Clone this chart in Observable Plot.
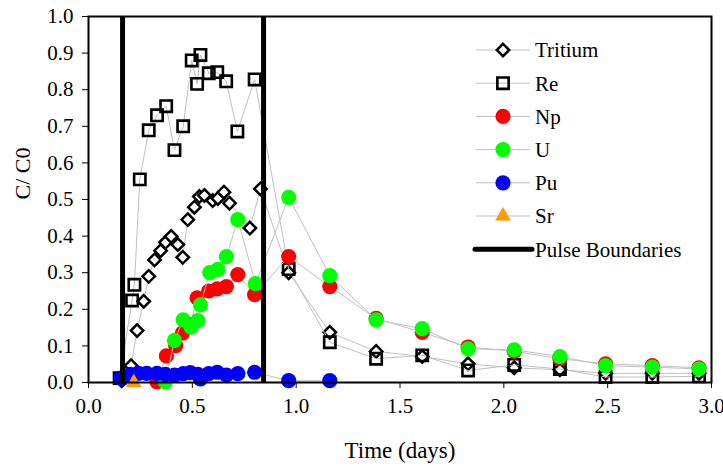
<!DOCTYPE html>
<html>
<head>
<meta charset="utf-8">
<script src="https://cdn.jsdelivr.net/npm/d3@7"></script>
<script src="https://cdn.jsdelivr.net/npm/@observablehq/plot@0.6"></script>
<style>
  body { margin: 0; background: #fff; }
  #chart { position: relative; width: 723px; height: 466px; font-family: "Liberation Serif", "Times New Roman", serif; }
  #chart svg.legend { position: absolute; left: 0; top: 0; pointer-events: none; }
</style>
</head>
<body>
<div id="chart"></div>
<script>
// Breakthrough curves: relative concentration C/C0 versus elapsed time (days)
const tritiumT = [0.16, 0.205, 0.234, 0.266, 0.29, 0.318, 0.347, 0.371, 0.398, 0.43, 0.454, 0.478, 0.51, 0.534, 0.558, 0.598, 0.623, 0.652, 0.679, 0.777, 0.828, 0.964, 1.162, 1.385, 1.607, 1.828, 2.05, 2.27, 2.49, 2.715, 2.94];
const tritiumC = [0.005, 0.046, 0.142, 0.222, 0.29, 0.335, 0.36, 0.383, 0.399, 0.377, 0.342, 0.445, 0.479, 0.508, 0.511, 0.497, 0.503, 0.52, 0.49, 0.422, 0.529, 0.30, 0.137, 0.085, 0.071, 0.051, 0.04, 0.035, 0.025, 0.025, 0.025];

const reT = [0.15, 0.21, 0.221, 0.247, 0.29, 0.33, 0.374, 0.414, 0.456, 0.497, 0.523, 0.539, 0.579, 0.62, 0.663, 0.717, 0.80, 0.964, 1.162, 1.385, 1.607, 1.828, 2.05, 2.27, 2.49, 2.715, 2.94];
const reC = [0.012, 0.224, 0.267, 0.555, 0.689, 0.73, 0.755, 0.635, 0.70, 0.88, 0.816, 0.895, 0.845, 0.848, 0.823, 0.686, 0.828, 0.31, 0.11, 0.065, 0.074, 0.033, 0.048, 0.037, 0.015, 0.015, 0.017];

const npT = [0.33, 0.375, 0.42, 0.452, 0.49, 0.523, 0.579, 0.62, 0.664, 0.719, 0.80, 0.964, 1.162, 1.385, 1.607, 1.828, 2.05, 2.27, 2.49, 2.715, 2.94];
const npC = [0.002, 0.073, 0.101, 0.135, 0.158, 0.231, 0.25, 0.256, 0.262, 0.295, 0.24, 0.344, 0.262, 0.175, 0.137, 0.097, 0.085, 0.065, 0.051, 0.046, 0.04];

const uT = [0.37, 0.414, 0.456, 0.494, 0.526, 0.539, 0.584, 0.623, 0.664, 0.719, 0.804, 0.964, 1.162, 1.385, 1.607, 1.828, 2.05, 2.27, 2.49, 2.715, 2.94];
const uC = [0.002, 0.115, 0.171, 0.151, 0.169, 0.212, 0.30, 0.309, 0.344, 0.445, 0.27, 0.506, 0.292, 0.171, 0.147, 0.092, 0.089, 0.071, 0.046, 0.042, 0.037];

const puT = [0.155, 0.20, 0.24, 0.28, 0.33, 0.37, 0.414, 0.456, 0.49, 0.526, 0.539, 0.579, 0.62, 0.664, 0.719, 0.80, 0.964, 1.162];
const puC = [0.012, 0.022, 0.025, 0.025, 0.025, 0.022, 0.02, 0.024, 0.027, 0.022, 0.01, 0.024, 0.028, 0.02, 0.024, 0.028, 0.005, 0.005];

const srT = [0.218];
const srC = [0.0];

// Start and end of the injected pulse (days)
const pulseBounds = [0.164, 0.843];

const xTicks = [0, 0.5, 1.0, 1.5, 2.0, 2.5, 3.0];
const yTicks = [0, 0.1, 0.2, 0.3, 0.4, 0.5, 0.6, 0.7, 0.8, 0.9, 1.0];
const xLabel = "Time (days)";
const yLabel = "C/ C0";
const pulseLabel = "Pulse Boundaries";

const seriesNames = ["Tritium", "Re", "Np", "U", "Pu", "Sr"];
const seriesTimes = [tritiumT, reT, npT, uT, puT, srT];
const seriesValues = [tritiumC, reC, npC, uC, puC, srC];

// Marker styling per tracer
const markerStyle = {
  Tritium: {symbol: "diamond2", r: 5.6, fill: "white", stroke: "black", strokeWidth: 2.5},
  Re:      {symbol: "square2",  r: 7.2, fill: "none",  stroke: "black", strokeWidth: 2.6},
  Np:      {symbol: "circle",   r: 7.6, fill: "#ff0000", stroke: "none", strokeWidth: 0},
  U:       {symbol: "circle",   r: 7.6, fill: "#00ff00", stroke: "none", strokeWidth: 0},
  Pu:      {symbol: "circle",   r: 7.6, fill: "#0000ff", stroke: "none", strokeWidth: 0},
  Sr:      {symbol: "triangle", r: 5.8, fill: "#ff9900", stroke: "none", strokeWidth: 0}
};
const connectorColor = "#c0c0c0";
const serif = "'Liberation Serif', 'Times New Roman', serif";

const seriesRows = seriesNames.map((name, i) =>
  seriesTimes[i].map((t, j) => ({series: name, t, c: seriesValues[i][j]}))
);

const marks = [];
seriesNames.forEach((name, i) => {
  const s = markerStyle[name];
  marks.push(Plot.line(seriesRows[i], {x: "t", y: "c", stroke: connectorColor, strokeWidth: 1}));
  marks.push(Plot.dot(seriesRows[i], {
    x: "t", y: "c", symbol: s.symbol, r: s.r,
    fill: s.fill, stroke: s.stroke, strokeWidth: s.strokeWidth
  }));
});

const chart = Plot.plot({
  width: 723,
  height: 466,
  marginLeft: 88,
  marginRight: 12,
  marginTop: 16,
  marginBottom: 84,
  style: {fontFamily: serif, fontSize: "21px", color: "black", background: "white"},
  x: {domain: [0, 3], ticks: xTicks, tickFormat: d3.format(".1f"), tickSize: 6, tickPadding: 10, label: null},
  y: {domain: [0, 1], ticks: yTicks, tickFormat: d3.format(".1f"), tickSize: 6, tickPadding: 9, label: null},
  marks: [
    ...marks,
    Plot.ruleX(pulseBounds, {stroke: "black", strokeWidth: 5}),
    Plot.frame({stroke: "black", strokeWidth: 2}),
    Plot.text([xLabel], {text: d => d, frameAnchor: "bottom", dy: 75, fontSize: 23}),
    Plot.text([yLabel], {text: d => d, frameAnchor: "left", dx: -66, rotate: -90, fontSize: 22})
  ]
});

const host = document.getElementById("chart");
host.appendChild(chart);

// Legend box drawn over the upper right of the plot area
const legend = d3.select(host).append("svg")
  .attr("class", "legend")
  .attr("width", 723)
  .attr("height", 466);

const symbolTypes = {
  diamond2: d3.symbolDiamond2, square2: d3.symbolSquare2,
  circle: d3.symbolCircle, triangle: d3.symbolTriangle
};
const legendX = 476, legendW = 54, legendTop = 50, legendStep = 33.2;

seriesNames.forEach((name, i) => {
  const s = markerStyle[name];
  const g = legend.append("g").attr("transform", `translate(${legendX},${legendTop + i * legendStep})`);
  g.append("line").attr("x1", 0).attr("x2", legendW).attr("stroke", connectorColor).attr("stroke-width", 1);
  g.append("path")
    .attr("transform", `translate(${legendW / 2},0)`)
    .attr("d", d3.symbol(symbolTypes[s.symbol], Math.PI * s.r * s.r)())
    .attr("fill", s.fill).attr("stroke", s.stroke).attr("stroke-width", s.strokeWidth);
  g.append("text").attr("x", legendW + 5).attr("dy", "0.35em")
    .attr("font-size", 21).attr("font-family", serif)
    .text(name);
});
{
  const g = legend.append("g").attr("transform", `translate(${legendX},${legendTop + seriesNames.length * legendStep})`);
  g.append("line").attr("x1", -1).attr("x2", legendW + 2).attr("stroke", "black").attr("stroke-width", 5).attr("stroke-linecap", "round");
  g.append("text").attr("x", legendW + 5).attr("dy", "0.35em")
    .attr("font-size", 21).attr("font-family", serif)
    .text(pulseLabel);
}
</script>
</body>
</html>
